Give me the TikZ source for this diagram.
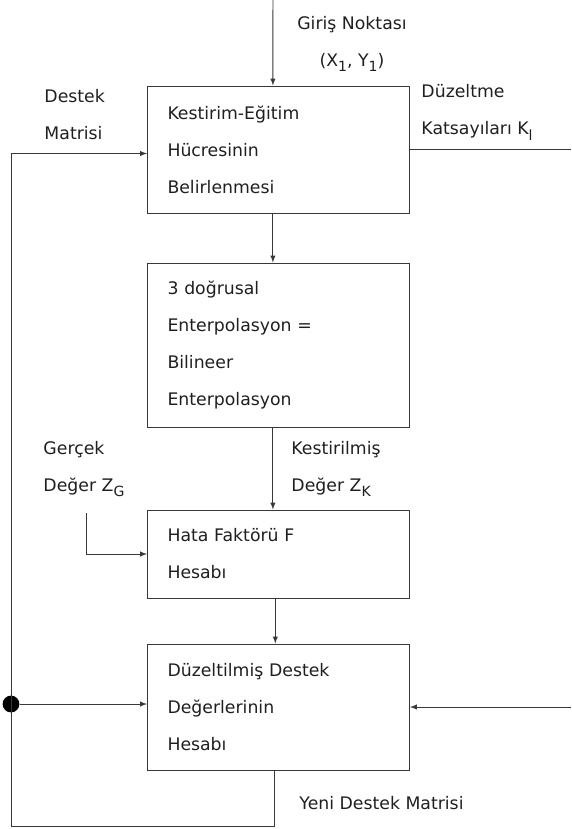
\documentclass[tikz,border=0pt]{standalone}
\usepackage{fontspec}
\setmainfont{DejaVu Sans}
\definecolor{LineColor}{rgb}{0.22,0.22,0.22}
\definecolor{TextColor}{rgb}{0.12,0.12,0.12}
\newcommand{\altindis}[1]{\raisebox{-0.55ex}{\fontsize{10}{10}\selectfont #1}}
\tikzstyle{ts-box-base}=[rectangle,
                         draw=LineColor,
                         line width=0.7pt,
                         align=left,
                         inner xsep=0.5cm,
                         text width=5.55cm,
                         text=TextColor,
                         font=\fontsize{12.3}{26.3}\selectfont
                        ]
\tikzstyle{kutu}=[ts-box-base]
\tikzstyle{etiket}=[text=TextColor,
                    align=left,
                    anchor=west,
                    inner sep=0pt,
                    font=\fontsize{12.3}{26.3}\selectfont]

\begin{document}
\begin{tikzpicture}[line width=0.7pt, draw=LineColor]
\useasboundingbox (0cm,0cm) rectangle (14.275cm,-20.725cm);

\coordinate (giris) at (6.825cm, 0cm);
\node at (6.9625cm, -3.7375cm) (kestirim_step1) [kutu, minimum height=3.175cm] {Kestirim-Eğitim\\Hücresinin\\Belirlenmesi};
\node at (6.9625cm, -8.625cm)  (kestirim_step2) [kutu, minimum height=4.1cm]   {3 doğrusal\\Enterpolasyon =\\Bilineer\\Enterpolasyon};
\node at (6.9625cm, -13.85cm)  (kestirim_step3) [kutu, minimum height=2.2cm]   {Hata Faktörü F\\Hesabı};
\node at (6.9625cm, -17.675cm) (kestirim_step4) [kutu, minimum height=3.15cm]  {Düzeltilmiş Destek\\Değerlerinin\\Hesabı};

\node at (8.8cm, -1.1cm)     (giris_label)  [etiket, anchor=center, align=center] {Giriş Noktası\\(X\altindis{1}, Y\altindis{1})};
\node at (1.1cm, -2.875cm)   (destek_label) [etiket] {Destek\\Matrisi};
\node at (10.525cm, -2.8125cm) (duzeltme_label) [etiket] {Düzeltme\\Katsayıları K\altindis{l}};
\node at (1.075cm, -11.725cm)  (gercek_label) [etiket] {Gerçek\\Değer Z\altindis{G}};
\node at (7.275cm, -11.725cm)  (kestirilmis_label) [etiket] {Kestirilmiş\\Değer Z\altindis{K}};
\node at (7.475cm, -20.075cm)  (yeni_label) [etiket] {Yeni Destek Matrisi};

\coordinate (sag_ust) at (14.275cm, -3.7375cm);
\coordinate (sag_alt) at (14.275cm, -17.675cm);
\coordinate (dongu_alt) at (0.275cm, -20.65cm);
\coordinate (zg) at (2.15cm, -12.825cm);
\node at (0.275cm, -17.6cm) (nokta) [circle, fill=black, inner sep=0pt, minimum size=0.42cm] {};

\draw[-latex] (giris) -- ([xshift=-0.14cm]kestirim_step1.north);
\draw[-latex] ([xshift=-0.14cm]kestirim_step1.south) -- ([xshift=-0.14cm]kestirim_step2.north);
\draw[-latex] ([xshift=-0.14cm]kestirim_step2.south) -- ([xshift=-0.14cm]kestirim_step3.north);
\draw[-latex] ([xshift=-0.08cm]kestirim_step3.south) -- ([xshift=-0.08cm]kestirim_step4.north);
\draw (kestirim_step1.east) -- (sag_ust);
\draw[-latex] (sag_alt) -- (kestirim_step4.east);
\draw[-latex] ([xshift=-0.1cm]kestirim_step4.south) |- (dongu_alt) |- ([yshift=-0.1cm]kestirim_step1.west);
\draw[-latex] (nokta) -- (nokta -| kestirim_step4.west);
\draw[-latex] (zg) |- (kestirim_step3.west);
\end{tikzpicture}
\end{document}
